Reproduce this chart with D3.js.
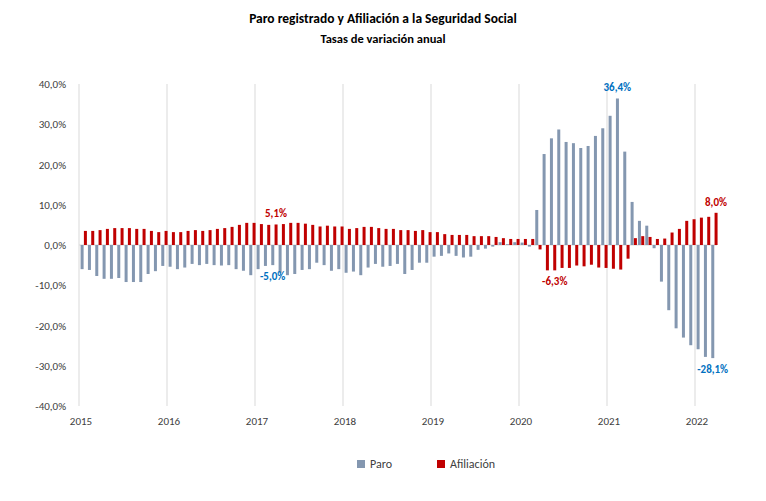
<!DOCTYPE html><html><head><meta charset="utf-8"><script src="https://cdn.jsdelivr.net/npm/d3@7"></script>
<style>body{margin:0;background:#fff}text{font-family:Calibri,Carlito,"Liberation Sans",Arial,sans-serif}</style></head><body><svg id="c" width="766" height="501"></svg><script>
const years=["2015","2016","2017","2018","2019","2020","2021","2022"];
const paro=[-6.0,-6.2,-7.7,-8.4,-8.4,-8.2,-9.2,-9.2,-9.2,-7.2,-6.5,-5.2,
-5.4,-6.0,-5.6,-4.7,-5.0,-4.7,-5.0,-5.1,-5.0,-6.0,-6.4,-7.5,
-6.0,-5.2,-5.0,-6.9,-7.5,-7.2,-6.2,-6.0,-4.4,-5.0,-6.4,-6.0,
-6.9,-6.6,-7.5,-5.6,-4.7,-5.4,-5.2,-4.7,-7.2,-6.2,-4.4,-4.4,
-2.9,-2.7,-2.1,-2.7,-3.1,-2.9,-1.2,-0.9,-0.4,0.7,0.2,0.7,
0.6,-0.4,8.7,22.6,26.5,28.7,25.6,25.3,24.1,24.6,27.1,29.0,
32.1,36.4,23.2,10.7,6.0,4.8,-0.8,-9.1,-16.2,-20.7,-23.0,-24.9,
-25.9,-27.8,-28.1];
const afil=[3.5,3.5,3.7,4.0,4.2,4.2,4.2,4.0,4.0,3.5,3.2,3.5,
3.2,3.2,3.5,3.7,3.5,3.7,4.0,4.2,4.5,5.0,5.5,5.5,
5.2,5.0,5.1,5.2,5.5,5.5,5.3,5.0,4.6,4.8,4.6,4.6,
4.0,4.2,4.5,4.5,4.2,4.0,4.0,3.7,3.7,3.5,3.7,3.2,
3.2,2.7,2.5,2.5,2.5,2.2,2.2,2.2,2.0,1.7,1.5,1.5,
1.5,1.5,-1.1,-6.3,-6.3,-5.7,-5.7,-5.1,-5.3,-4.9,-5.6,-5.7,
-5.9,-6.1,-3.4,1.7,2.2,2.0,1.5,1.6,3.1,4.0,6.0,6.4,
6.8,7.0,8.0];
const yTicks=[40,30,20,10,0,-10,-20,-30,-40];
const labels=[{s:"paro",i:26,t:"-5,0%",c:"#0070C0"},{s:"afil",i:26,t:"5,1%",c:"#C00000"},
{s:"afil",i:64,t:"-6,3%",c:"#C00000"},{s:"paro",i:73,t:"36,4%",c:"#0070C0"},
{s:"afil",i:86,t:"8,0%",c:"#C00000"},{s:"paro",i:86,t:"-28,1%",c:"#0070C0"}];
const svg=d3.select("#c");
const x0=79,bw=88/12;
const x=d3.scaleLinear().domain([0,87]).range([x0,x0+87*bw]);
const y=d3.scaleLinear().domain([-40,40]).range([406,84]);
svg.append("text").attr("x",383).attr("y",23).attr("text-anchor","middle").attr("font-weight","bold").attr("font-size",13.5).text("Paro registrado y Afiliación a la Seguridad Social");
svg.append("text").attr("x",383).attr("y",43).attr("text-anchor","middle").attr("font-weight","bold").attr("font-size",12.5).text("Tasas de variación anual");
years.forEach((yr,k)=>{const px=x(k*12);
svg.append("line").attr("x1",px).attr("x2",px).attr("y1",84).attr("y2",406).attr("stroke","#d9d9d9");
svg.append("text").attr("x",px+2).attr("y",425).attr("text-anchor","middle").attr("font-size",11).attr("fill","#404040").text(yr);});
yTicks.forEach(v=>svg.append("text").attr("x",66).attr("y",y(v)+4).attr("text-anchor","end").attr("font-size",11).attr("fill","#404040").text(v.toFixed(1).replace(".",",")+"%"));
svg.append("line").attr("x1",x0).attr("x2",x(87)).attr("y1",y(0)).attr("y2",y(0)).attr("stroke","#d9d9d9");
svg.selectAll(".p").data(paro).join("rect").attr("x",(d,i)=>x(i)+1.6).attr("width",3).attr("y",d=>y(Math.max(0,d))).attr("height",d=>Math.abs(y(d)-y(0))).attr("fill","#8497B0");
svg.selectAll(".a").data(afil).join("rect").attr("x",(d,i)=>x(i)+4.9).attr("width",3).attr("y",d=>y(Math.max(0,d))).attr("height",d=>Math.abs(y(d)-y(0))).attr("fill","#C00000");
labels.forEach(l=>{const v=(l.s=="paro"?paro:afil)[l.i];const off=l.s=="paro"?3:6.4;
svg.append("text").attr("x",x(l.i)+off).attr("y",v>=0?y(v)-7:y(v)+15).attr("text-anchor","middle").attr("font-weight","bold").attr("font-size",11).attr("fill",l.c).text(l.t);});
[[357,"#8497B0","Paro"],[437,"#C00000","Afiliación"]].forEach(([lx,c,t])=>{
svg.append("rect").attr("x",lx).attr("y",460).attr("width",8).attr("height",8).attr("fill",c);
svg.append("text").attr("x",lx+13).attr("y",468).attr("font-size",12).attr("fill","#404040").text(t);});
</script></body></html>
